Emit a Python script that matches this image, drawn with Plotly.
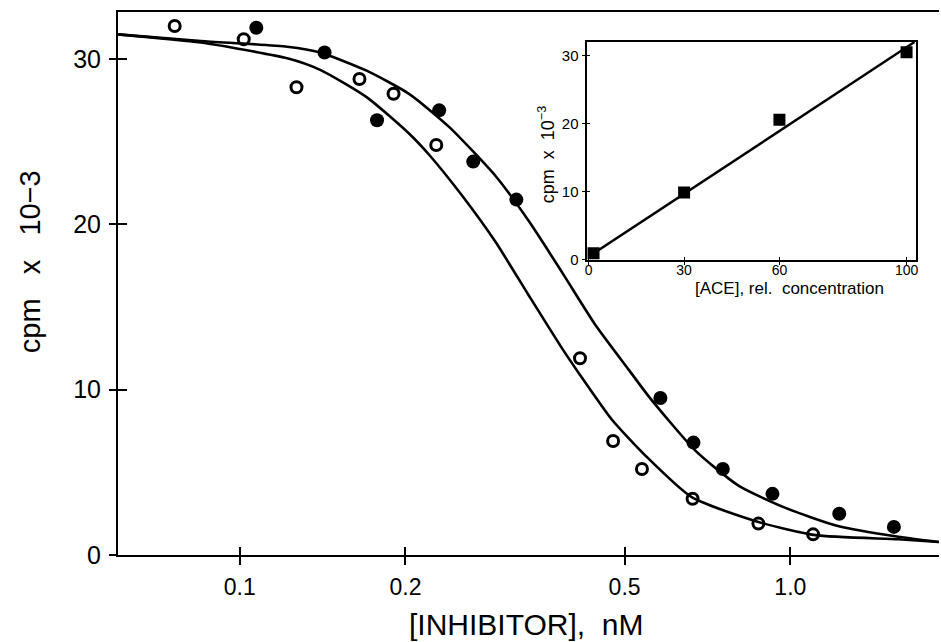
import plotly.graph_objects as go

# Inhibition data: open circles and filled circles, [INHIBITOR] in nM, cpm x 10^-3
open_x = [0.0762, 0.1017, 0.1268, 0.165, 0.1903, 0.2275, 0.415, 0.4766, 0.5377, 0.6645, 0.875, 1.10]
open_y = [32.0, 31.2, 28.3, 28.8, 27.9, 24.8, 11.9, 6.9, 5.2, 3.4, 1.9, 1.25]

filled_x = [0.1072, 0.1426, 0.1776, 0.2303, 0.2655, 0.318, 0.5808, 0.667, 0.754, 0.928, 1.227, 1.542]
filled_y = [31.9, 30.4, 26.3, 26.9, 23.8, 21.5, 9.5, 6.8, 5.2, 3.7, 2.5, 1.7]

# Fitted inhibition curves
fit_filled_x = [0.060, 0.085, 0.122, 0.140, 0.170, 0.203, 0.240, 0.292, 0.335, 0.385,
                0.443, 0.509, 0.553, 0.673, 0.805, 0.980, 1.22, 1.57, 1.86]
fit_filled_y = [31.5, 31.1, 30.75, 30.4, 29.3, 27.9, 25.9, 22.9, 20.2, 17.1,
                13.9, 11.2, 9.6, 6.3, 4.2, 2.85, 1.75, 1.1, 0.79]

fit_open_x = [0.060, 0.085, 0.122, 0.140, 0.170, 0.203, 0.221, 0.254, 0.292, 0.335,
              0.385, 0.413, 0.474, 0.546, 0.662, 0.875, 1.11, 1.57, 1.86]
fit_open_y = [31.5, 31.0, 30.05, 29.35, 27.7, 25.5, 24.2, 21.7, 18.9, 15.7,
              12.5, 11.0, 8.2, 6.0, 3.5, 2.0, 1.2, 0.95, 0.79]

main_xticks = [0.1, 0.2, 0.5, 1.0]
main_xticklabels = ["0.1", "0.2", "0.5", "1.0"]
main_yticks = [0, 10, 20, 30]

# Inset: signal versus [ACE]
ace_x = [1.5, 30, 60, 100]
ace_y = [1.0, 9.9, 20.6, 30.5]
ace_fit_x = [0, 102.5]
ace_fit_y = [0.5, 32.0]

inset_xticks = [0, 30, 60, 100]
inset_yticks = [0, 10, 20, 30]

FONT = "Liberation Sans, Arial, sans-serif"
NB = "\u00a0"

fig = go.Figure()

curve_line = dict(color="black", width=2.6, shape="spline", smoothing=0.6)

# main curves
fig.add_trace(go.Scatter(x=fit_filled_x, y=fit_filled_y, mode="lines",
                         line=curve_line, hoverinfo="skip"))
fig.add_trace(go.Scatter(x=fit_open_x, y=fit_open_y, mode="lines",
                         line=curve_line, hoverinfo="skip"))
fig.add_trace(go.Scatter(x=open_x, y=open_y, mode="markers",
                         marker=dict(symbol="circle-open", size=11, color="black",
                                     line=dict(width=3, color="black"))))
fig.add_trace(go.Scatter(x=filled_x, y=filled_y, mode="markers",
                         marker=dict(symbol="circle", size=14, color="black")))
# overlay axes carrying the inward half of the crossing ticks
fig.add_trace(go.Scatter(x=[None], y=[None], xaxis="x3", yaxis="y3", hoverinfo="skip"))

# inset
fig.add_trace(go.Scatter(x=ace_fit_x, y=ace_fit_y, mode="lines", xaxis="x2", yaxis="y2",
                         line=dict(color="black", width=2.4), hoverinfo="skip"))
fig.add_trace(go.Scatter(x=ace_x, y=ace_y, mode="markers", xaxis="x2", yaxis="y2",
                         marker=dict(symbol="square", size=12, color="black")))
fig.add_trace(go.Scatter(x=[None], y=[None], xaxis="x4", yaxis="y4", hoverinfo="skip"))

x_log_range = [-1.221, 0.270]
y_range = [0, 32.85]
ix_range = [-0.7, 103.0]
iy_range = [0, 32.06]
inset_xdom = [0.5707, 0.9721]
inset_ydom = [0.5433, 0.9453]

fig.update_layout(
    width=941, height=642,
    margin=dict(l=118, r=0, t=12, b=87),
    paper_bgcolor="white", plot_bgcolor="white",
    showlegend=False,
    font=dict(family=FONT, color="black"),
    xaxis=dict(type="log", range=x_log_range, tickvals=main_xticks, ticktext=main_xticklabels,
               ticks="outside", ticklen=8, tickwidth=1.5, tickcolor="black",
               showline=True, linecolor="black", linewidth=2, mirror=True,
               showgrid=False, zeroline=False, tickfont=dict(size=23, family=FONT),
               ticklabelstandoff=2),
    yaxis=dict(range=y_range, tickvals=main_yticks,
               ticks="outside", ticklen=7, tickwidth=1.5, tickcolor="black",
               showline=True, linecolor="black", linewidth=2,
               showgrid=False, zeroline=False, tickfont=dict(size=25, family=FONT),
               ticklabelstandoff=3),
    xaxis3=dict(type="log", range=x_log_range, tickvals=main_xticks, overlaying="x", anchor="y3",
                ticks="inside", ticklen=8, tickwidth=1.5, tickcolor="black",
                showticklabels=False, showline=False, showgrid=False, zeroline=False),
    yaxis3=dict(range=y_range, tickvals=main_yticks, overlaying="y", anchor="x3",
                ticks="inside", ticklen=9, tickwidth=1.5, tickcolor="black",
                showticklabels=False, showline=False, showgrid=False, zeroline=False),
    xaxis2=dict(domain=inset_xdom, anchor="y2", range=ix_range, tickvals=inset_xticks,
                ticks="outside", ticklen=3, tickwidth=1.2, tickcolor="black",
                showline=True, linecolor="black", linewidth=2, mirror=True,
                showgrid=False, zeroline=False, tickfont=dict(size=14, family=FONT),
                ticklabelstandoff=-7),
    yaxis2=dict(domain=inset_ydom, anchor="x2", range=iy_range, tickvals=inset_yticks,
                ticks="outside", ticklen=3, tickwidth=1.2, tickcolor="black",
                showline=True, linecolor="black", linewidth=2, mirror=True,
                showgrid=False, zeroline=False, tickfont=dict(size=15, family=FONT),
                ticklabelstandoff=0),
    xaxis4=dict(range=ix_range, tickvals=inset_xticks, overlaying="x2", anchor="y4",
                ticks="inside", ticklen=3, tickwidth=1.2, tickcolor="black",
                showticklabels=False, showline=False, showgrid=False, zeroline=False),
    yaxis4=dict(range=iy_range, tickvals=inset_yticks, overlaying="y2", anchor="x4",
                ticks="inside", ticklen=3, tickwidth=1.2, tickcolor="black",
                showticklabels=False, showline=False, showgrid=False, zeroline=False),
)

annotations = [
    dict(text="cpm" + NB * 3 + "x" + NB * 3 + "10\u22123", xref="paper", yref="paper",
         x=-0.1069, y=0.5396, textangle=-90, showarrow=False,
         font=dict(size=29, family=FONT), xanchor="center", yanchor="middle"),
    dict(text="[INHIBITOR]," + NB * 2 + "nM", xref="paper", yref="paper",
         x=0.497, y=-0.1289, showarrow=False,
         font=dict(size=30, family=FONT), xanchor="center", yanchor="middle"),
    dict(text="cpm" + NB * 2 + "x" + NB * 2 + "10<sup>\u22123</sup>", xref="paper", yref="paper",
         x=0.5215, y=0.7366, textangle=-90, showarrow=False,
         font=dict(size=18, family=FONT), xanchor="center", yanchor="middle"),
    dict(text="[ACE]," + NB + "rel." + NB * 2 + "concentration", xref="paper", yref="paper",
         x=0.8177, y=0.4900, showarrow=False,
         font=dict(size=17, family=FONT), xanchor="center", yanchor="middle"),
]
fig.update_layout(annotations=annotations)

fig.write_html("out.html")
